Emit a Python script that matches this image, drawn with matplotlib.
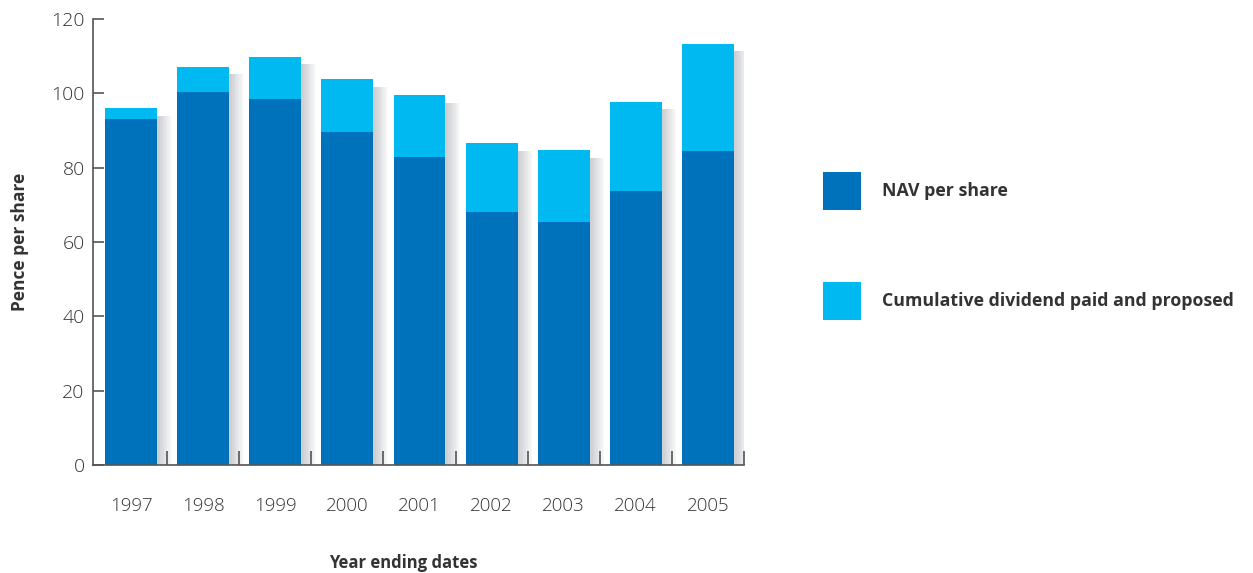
"""
NAV per share with cumulative dividend, stacked bars 1997-2005.
"""

import numpy as np
import matplotlib
matplotlib.use("Agg")
import matplotlib.pyplot as plt
from matplotlib.patches import Rectangle

# ── Data ─────────────────────────────────────────────
years = ["1997", "1998", "1999", "2000", "2001", "2002", "2003", "2004", "2005"]
nav = [93.1, 100.3, 98.5, 89.6, 82.9, 68.1, 65.4, 73.7, 84.5]
dividend = [2.9, 6.8, 11.3, 14.2, 16.6, 18.5, 19.3, 24.0, 28.8]
y_ticks = [0, 20, 40, 60, 80, 100, 120]
legend_labels = ["NAV per share", "Cumulative dividend paid and proposed"]

NAV_COLOR = "#0072BC"
DIV_COLOR = "#00B9F1"
TEXT = "#333333"
AXIS = "#555555"

plt.rcParams["font.family"] = ["Open Sans", "DejaVu Sans"]

fig = plt.figure(figsize=(12.53, 5.73), dpi=100)
ax = fig.add_axes([0.0742, 0.1885, 0.5195, 0.7783])

x = np.arange(len(years))
total = np.array(nav) + np.array(dividend)

# ── Soft drop shadow to the right of each bar ────────
for off in np.linspace(0.02, 0.2, 10):
    ax.bar(x + off, total - 2.0, width=0.72, color="#7A8089", alpha=0.045,
           linewidth=0, zorder=1)

ax.bar(x, nav, width=0.72, color=NAV_COLOR, linewidth=0, zorder=2)
ax.bar(x, dividend, bottom=nav, width=0.72, color=DIV_COLOR, linewidth=0, zorder=2)

# ── Axes styling ─────────────────────────────────────
ax.set_xlim(-0.53, 8.5)
ax.set_ylim(0, 120)
for side in ("top", "right"):
    ax.spines[side].set_visible(False)
for side in ("left", "bottom"):
    ax.spines[side].set_color(AXIS)
    ax.spines[side].set_linewidth(1.2)

ax.set_yticks(y_ticks)
ax.tick_params(axis="y", direction="in", length=8, width=1.2, color=AXIS,
               labelsize=14, labelcolor=TEXT, pad=6)
for lbl in ax.get_yticklabels():
    lbl.set_fontweight("light")

ax.set_xticks(x)
ax.set_xticklabels(years, fontsize=13.5, color=TEXT, fontweight="light")
ax.tick_params(axis="x", which="major", length=0, pad=23)
ax.set_xticks(x + 0.5, minor=True)
ax.tick_params(axis="x", which="minor", direction="in", length=10, width=1.2, color=AXIS)

ax.set_ylabel("Pence per share", fontsize=12.5, fontweight="bold", color=TEXT)
ax.yaxis.set_label_coords(-0.098, 0.5)
ax.set_xlabel("Year ending dates", fontsize=12, fontweight="bold", color=TEXT)
ax.xaxis.set_label_coords(0.477, -0.2)

# ── Legend (square swatches, laid out by hand) ───────
for i, (lab, col) in enumerate(zip(legend_labels, [NAV_COLOR, DIV_COLOR])):
    y0 = 0.6335 - i * 0.192
    fig.patches.append(Rectangle((0.6568, y0), 0.0303, 0.0663, transform=fig.transFigure,
                                 facecolor=col, edgecolor="none"))
    fig.text(0.7039, y0 + 0.0332, lab, fontsize=12.8, fontweight="bold",
             color=TEXT, va="center", ha="left")

fig.savefig("out.png", dpi=100)
